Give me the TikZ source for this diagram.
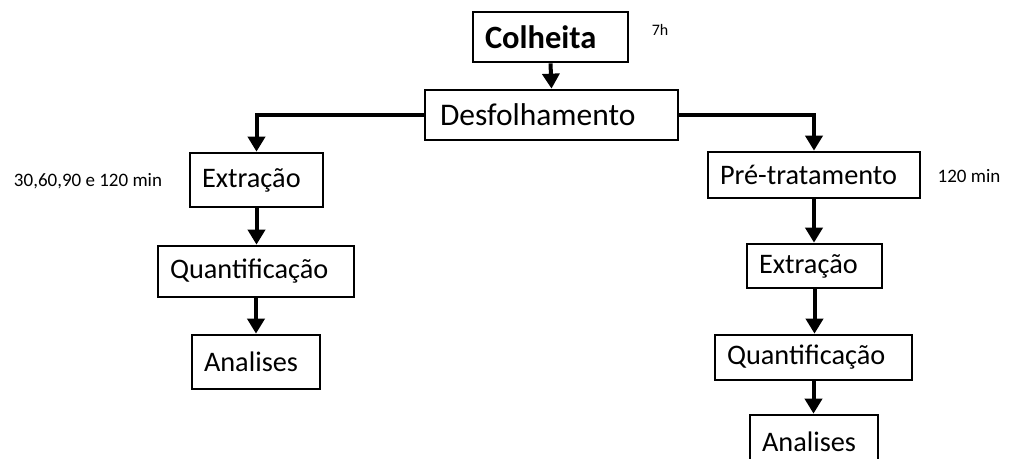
\documentclass[tikz,border=0pt]{standalone}
\usepackage{fontspec}
\setmainfont{Carlito}
\usetikzlibrary{arrows.meta}
\tikzset{
  box/.style={draw=black, line width=2.7pt, fill=white, inner xsep=9pt, inner ysep=0pt,
    align=left, font=\fontsize{28.3}{32}\selectfont},
  arr/.style={line width=4pt, -{Triangle[width=17pt,length=15pt]}},
  note/.style={font=\fontsize{19}{22}\selectfont, inner sep=0pt},
}
\newcommand{\bx}[7][]{% opts, name, x1, y1, x2, y2, text
  \node[box, #1, minimum width={#5-#3}, minimum height={#6-#4}, text width={#5-#3-24}]
    (#2) at ({(#3+#5)/2},{(#4+#6)/2}) {\mbox{#7}};}
\begin{document}
\begin{tikzpicture}[x=1pt,y=-1pt]
\useasboundingbox (0,0) rectangle (1009,458);
\clip (0,0) rectangle (1009,458);
\bx[font=\fontsize{32.5}{36}\selectfont, inner xsep=11pt]{colh}{473}{12}{628}{62}{\textbf{Colheita}}
\bx[font=\fontsize{31.5}{36}\selectfont, inner xsep=15pt]{desf}{428}{90}{675}{140}{Desfolhamento}
\bx{extA}{190}{153}{323}{207}{Extração}
\bx{quaA}{158}{246}{354}{297}{Quantificação}
\bx[inner xsep=11pt]{anaA}{192}{335}{320}{389}{Analises}
\bx{pre}{708}{152}{920}{198}{Pré-tratamento}
\bx{extB}{747}{244}{882}{288}{Extração}
\bx{quaB}{715}{335}{912}{380}{Quantificação}
\bx[inner xsep=11pt]{anaB}{750}{415}{878}{469}{Analises}
\node[note, font=\fontsize{16}{20}\selectfont] (t7) at (660,30) {7h};
\node[note] (tA) at (88,181) {30,60,90 e 120 min};
\node[note] (tB) at (969,176) {120 min};
\draw[arr] (colh.south) -- (desf.north);
\draw[arr] (desf.west) -| (extA.north);
\draw[arr] (desf.east) -| (pre.north);
\draw[arr] (extA.south) -- (quaA.north -| extA.south);
\draw[arr] (quaA.south) -- (anaA.north -| quaA.south);
\draw[arr] (pre.south) -- (extB.north -| pre.south);
\draw[arr] (extB.south) -- (quaB.north -| extB.south);
\draw[arr] (quaB.south) -- (anaB.north -| quaB.south);
\end{tikzpicture}
\end{document}
